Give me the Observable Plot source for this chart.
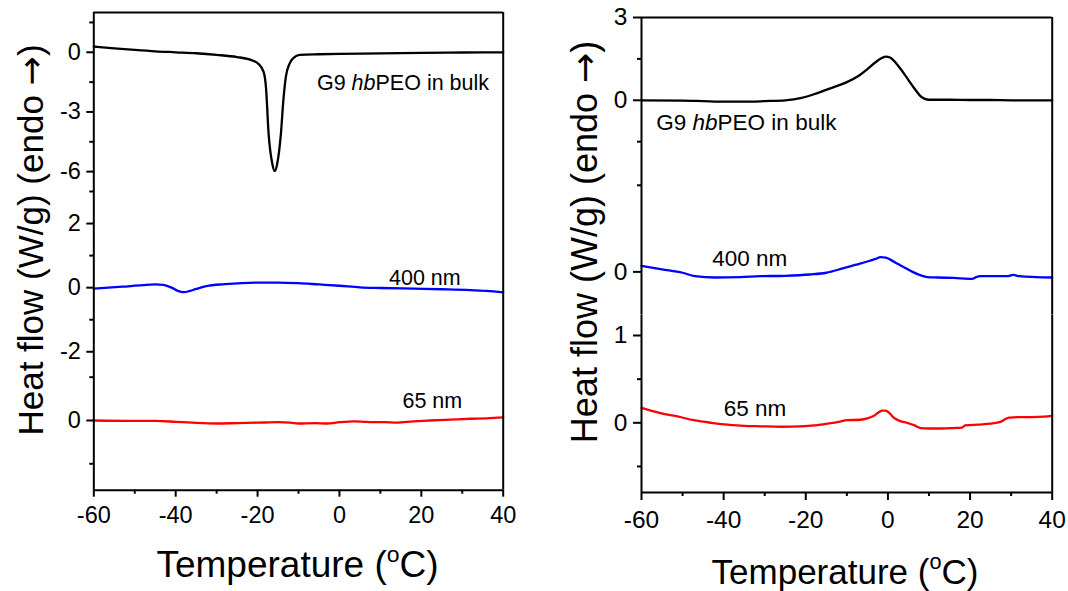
<!DOCTYPE html>
<html><head><meta charset="utf-8">
<script src="https://cdn.jsdelivr.net/npm/d3@7"></script>
<script src="https://cdn.jsdelivr.net/npm/@observablehq/plot@0.6"></script>
<style>
body{margin:0;background:#fff}
#root{position:relative;width:1068px;height:591px;overflow:hidden;background:#fff;font-family:"Liberation Sans",Arial,Helvetica,sans-serif;color:#000}
.ttl{position:absolute;white-space:nowrap;line-height:1;font-weight:normal}
.sup{font-size:0.62em;position:relative;top:-0.68em}
.arr{font-family:"DejaVu Sans",sans-serif}
</style></head><body><div id="root"></div>
<script>
// ---------- data ----------
const xTicksMajor = [-60, -40, -20, 0, 20, 40];
const xTicksMinor = [-50, -30, -10, 10, 30];
const xTitle = "Temperature (";
const yTitle = "Heat flow (W/g) (endo ";
const seriesLabels = ["G9 hbPEO in bulk", "400 nm", "65 nm"];

// left panel
const bulkLeftT  = [-60,-55,-50,-45,-40,-35,-30,-25,-22,-19.8,-18.5,-17.95,-17.3,-16.4,-15.8,-15.2,-14.3,-13.7,-13.1,-12.2,-11.2,-9.7,-5,0,10,20,30,40];
const bulkLeftHF = [0.29,0.2,0.12,0.05,0.0,-0.05,-0.13,-0.24,-0.36,-0.58,-1.0,-1.75,-4.1,-5.6,-5.97,-5.6,-4.1,-2.42,-1.25,-0.58,-0.28,-0.13,-0.1,-0.08,-0.06,-0.03,-0.01,0.0];
const n400LeftT  = [-60,-53,-48,-45,-43,-41,-39.5,-38,-36.5,-35,-32.5,-28,-20,-15,-10,-5,0,5,10,18,25,31,36,40];
const n400LeftHF = [-0.03,0.03,0.08,0.1,0.09,0.0,-0.1,-0.14,-0.1,-0.04,0.05,0.11,0.16,0.16,0.14,0.1,0.06,0.01,-0.01,-0.03,-0.05,-0.07,-0.1,-0.15];
const n65LeftT   = [-60,-50,-45,-40,-36,-30,-25,-20,-15,-12,-10,-6,-3,0,3.5,6,8,11,14,18,22,27,32,36,40];
const n65LeftHF  = [0.0,-0.01,-0.01,-0.03,-0.05,-0.07,-0.06,-0.05,-0.04,-0.05,-0.07,-0.06,-0.07,-0.04,-0.02,-0.03,-0.04,-0.04,-0.05,-0.02,0.0,0.02,0.04,0.05,0.07];

// right panel
const bulkRightT  = [-60,-50,-45,-40,-35,-30,-25,-21,-18,-15,-12,-10,-7,-5,-3,-1.5,-0.5,0.5,1.5,3,4,5,6,7,8,9,10,15,20,25,30,35,40];
const bulkRightHF = [0,-0.01,-0.03,-0.05,-0.05,-0.03,0.0,0.09,0.22,0.38,0.54,0.66,0.9,1.13,1.38,1.53,1.58,1.55,1.43,1.15,0.95,0.73,0.52,0.32,0.14,0.05,0.02,0.02,0.01,0.01,0.0,0.0,0.0];
const n400RightT  = [-60,-55,-50,-47,-42,-36,-31,-25,-19,-15,-11,-8,-5,-3,-1.8,-0.5,1,2.5,4,6,8,9.6,12,16,20.5,21.5,22.5,26,29,30.5,32,36,40];
const n400RightHF = [0.07,0.03,-0.01,-0.05,-0.065,-0.06,-0.05,-0.045,-0.03,-0.01,0.04,0.08,0.12,0.15,0.17,0.165,0.13,0.09,0.05,0.0,-0.04,-0.06,-0.065,-0.07,-0.08,-0.06,-0.05,-0.05,-0.05,-0.035,-0.05,-0.06,-0.065];
const n65RightT   = [-60,-55.4,-51,-47.3,-43,-39.1,-35,-31,-26,-21.3,-18,-14.8,-12,-9.9,-6.7,-5,-3.4,-1.4,-0.6,0.4,1.4,3,4.7,6.5,8,10,13,16,18,18.8,22,25,27.4,28.5,29.5,32,35,38,40];
const n65RightHF  = [0.17,0.11,0.07,0.03,0.0,-0.02,-0.035,-0.04,-0.045,-0.04,-0.03,-0.01,0.01,0.03,0.035,0.05,0.08,0.14,0.14,0.11,0.06,0.02,0.0,-0.03,-0.06,-0.065,-0.065,-0.06,-0.055,-0.03,-0.02,-0.01,0.01,0.04,0.06,0.065,0.065,0.07,0.08];

// y ticks for each stacked layer
const leftTopTicks = [0, -3, -6],   leftTopMinor = [1.5, -1.5, -4.5];
const leftMidTicks = [2, 0, -2],    leftMidMinor = [3, 1, -1];
const leftBotTicks = [0],           leftBotMinor = [1, -1];
const rightTopTicks = [3, 0],       rightTopMinor = [1.5, -1.5];
const rightMidTicks = [0],          rightMidMinor = [1];
const rightBotTicks = [1, 0],       rightBotMinor = [0.5, -0.5];

// ---------- drawing ----------
const FONT = '"Liberation Sans", Arial, Helvetica, sans-serif';
const root = document.getElementById("root");
const W = 1068;
const zip = (T, HF) => T.map((t, i) => ({T: t, HF: HF[i]}));

function layer(c) {
  const mt = 30, mb = c.xAxis ? 70 : 6;
  const h = c.pxBottom - c.pxTop;
  const marks = [
    Plot.line(zip(c.T, c.HF), {x: "T", y: "HF", stroke: c.color, strokeWidth: 2.3, curve: "monotone-x"}),
    Plot.ruleX([-60, 40], {stroke: "#000", strokeWidth: 2}),
    Plot.axisY(c.yTicks, {tickSize: c.tickSize, tickPadding: c.tickPad, strokeWidth: 2, fontSize: c.tickFont, tickFormat: d => String(d), label: null}),
    Plot.axisY(c.yMinor, {tickSize: 4, strokeWidth: 2, tickFormat: () => "", label: null}),
    Plot.text([{T: c.labelAt[0], HF: c.labelAt[1], s: c.label}], {x: "T", y: "HF", text: "s", textAnchor: "start", lineAnchor: "bottom", fontSize: c.labelFont, fill: "#000"})
  ];
  if (c.topFrame) marks.push(Plot.ruleY([c.yDomain[1]], {stroke: "#000", strokeWidth: 2}));
  if (c.xAxis) {
    marks.push(Plot.ruleY([c.yDomain[0]], {stroke: "#000", strokeWidth: 2}));
    marks.push(Plot.axisX(xTicksMajor, {tickSize: c.tickSize, tickPadding: c.xTickPad, strokeWidth: 2, fontSize: c.tickFont, tickFormat: d => String(d), label: null}));
    marks.push(Plot.axisX(xTicksMinor, {tickSize: 4, strokeWidth: 2, tickFormat: () => "", label: null}));
  }
  const svg = Plot.plot({
    width: W, height: mt + h + mb,
    marginLeft: c.left, marginRight: W - c.right, marginTop: mt, marginBottom: mb,
    x: {domain: [-60, 40], axis: null},
    y: {domain: c.yDomain, axis: null},
    style: {background: "transparent", overflow: "visible", fontFamily: FONT, color: "#000"},
    marks
  });
  svg.style.position = "absolute";
  svg.style.left = "0px";
  svg.style.top = (c.pxTop - mt) + "px";
  svg.querySelectorAll("text").forEach(t => {
    if (t.textContent === "G9 hbPEO in bulk") {
      t.textContent = "";
      const parts = [["G9 ", null], ["hb", "italic"], ["PEO in bulk", null]];
      for (const [s, st] of parts) {
        const ts = document.createElementNS("http://www.w3.org/2000/svg", "tspan");
        ts.textContent = s;
        if (st) ts.setAttribute("font-style", st);
        t.appendChild(ts);
      }
    }
  });
  root.appendChild(svg);
}

const L = {left: 93.3, right: 502.7, tickSize: 7, tickPad: 6, xTickPad: 9, tickFont: 23.5, labelFont: 21.5};
const R = {left: 641, right: 1051.7, tickSize: 8, tickPad: 6, xTickPad: 10, tickFont: 24.5, labelFont: 22.5};

layer({...L, pxTop: 12, pxBottom: 191, yDomain: [-7, 2], yTicks: leftTopTicks, yMinor: leftTopMinor, topFrame: true,
  T: bulkLeftT, HF: bulkLeftHF, color: "#000000", label: seriesLabels[0], labelAt: [-5.5, -1.92]});
layer({...L, pxTop: 191, pxBottom: 367.3, yDomain: [-2.5, 3], yTicks: leftMidTicks, yMinor: leftMidMinor,
  T: n400LeftT, HF: n400LeftHF, color: "#0000ff", label: seriesLabels[1], labelAt: [12.1, 0.07]});
layer({...L, pxTop: 367.3, pxBottom: 490, yDomain: [-1.61, 1.224], yTicks: leftBotTicks, yMinor: leftBotMinor, xAxis: true,
  T: n65LeftT, HF: n65LeftHF, color: "#ff0000", label: seriesLabels[2], labelAt: [15.4, 0.29]});

layer({...R, pxTop: 17.3, pxBottom: 155.3, yDomain: [-2, 3], yTicks: rightTopTicks, yMinor: rightTopMinor, topFrame: true,
  T: bulkRightT, HF: bulkRightHF, color: "#000000", label: seriesLabels[0], labelAt: [-56.4, -1.09]});
layer({...R, pxTop: 155.3, pxBottom: 315, yDomain: [-0.5, 1.344], yTicks: rightMidTicks, yMinor: rightMidMinor,
  T: n400RightT, HF: n400RightHF, color: "#0000ff", label: seriesLabels[1], labelAt: [-42.8, 0.07]});
layer({...R, pxTop: 315, pxBottom: 492, yDomain: [-0.798, 1.229], yTicks: rightBotTicks, yMinor: rightBotMinor, xAxis: true,
  T: n65RightT, HF: n65RightHF, color: "#ff0000", label: seriesLabels[2], labelAt: [-40.0, 0.076]});

// axis titles (HTML text)
function title(html, cx, baseline, size, rotated) {
  const d = document.createElement("div");
  d.className = "ttl";
  d.innerHTML = html;
  d.style.fontSize = size + "px";
  if (rotated) {
    d.style.left = (baseline - 0.3465 * size) + "px";
    d.style.top = cx + "px";
    d.style.transform = "translate(-50%,-50%) rotate(-90deg)";
  } else {
    d.style.left = cx + "px";
    d.style.top = (baseline - 0.8465 * size) + "px";
    d.style.transform = "translate(-50%,0)";
  }
  root.appendChild(d);
}
const xt = xTitle + '<span class="sup">o</span>C)';
const yt = yTitle + '<span class="arr">\u2192</span>)';
title(xt, 297.5, 577.7, 37, false);
title(xt, 845, 583.3, 35, false);
title(yt, 240, 43, 35, true);
title(yt, 242, 597, 36, true);
</script>
</body></html>
